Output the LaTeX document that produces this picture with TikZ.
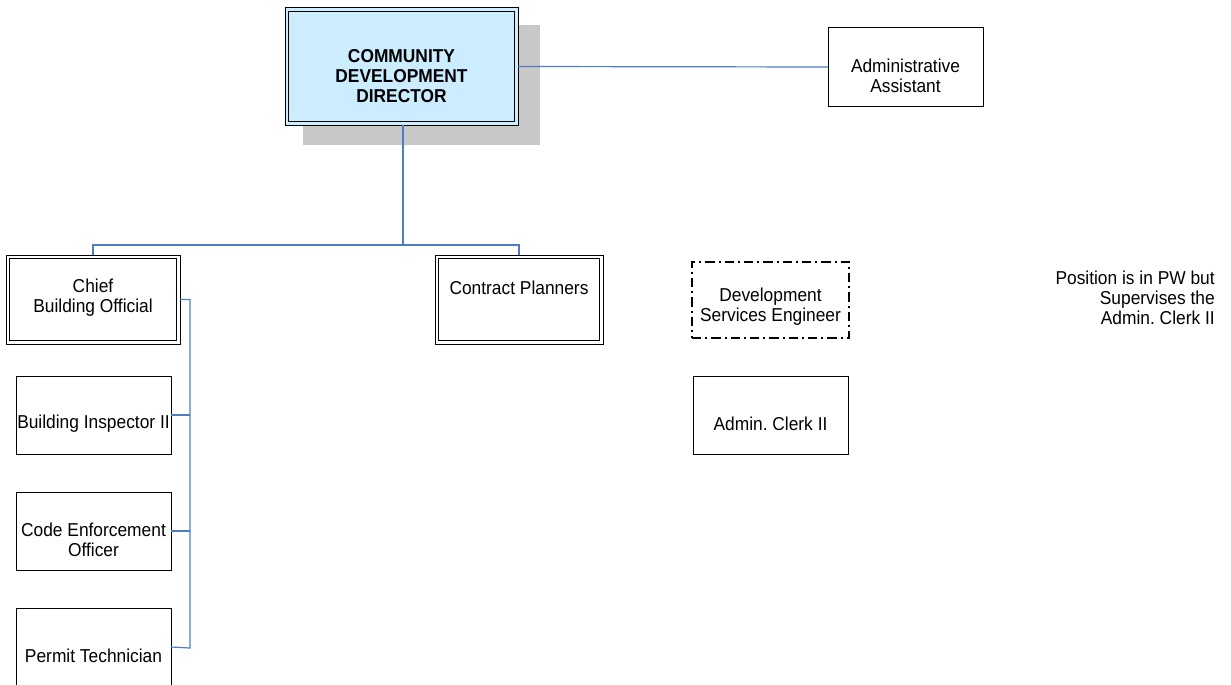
\documentclass[tikz,border=0pt]{standalone}
\usepackage{fontspec}
\setmainfont{Liberation Sans}[FakeStretch=0.93]
\definecolor{lblue}{RGB}{204,236,255}
\definecolor{shad}{RGB}{200,200,200}
\definecolor{conn}{RGB}{79,125,195}
\begin{document}
\begin{tikzpicture}[x=0.75pt,y=-0.75pt,
  box/.style={draw=black,line width=0.75pt,inner sep=0pt,outer sep=0pt,fill=white},
  innerline/.style={draw=black,line width=0.7pt},
  dashbox/.style={draw=black,line width=1.1pt,dash pattern=on 7pt off 3pt on 1.5pt off 3pt,inner sep=0pt,outer sep=0pt},
  txt/.style={align=center,inner sep=0pt,font=\fontsize{14}{15}\selectfont},
  link/.style={draw=conn,line width=0.9pt}]
\frenchspacing
\useasboundingbox (0,0) rectangle (1231,685);
% shadow
\fill[shad] (303,25) rectangle (540,145);
% boxes
\node[box,fill=lblue,minimum width=174.75pt,minimum height=87.75pt] (dir) at (401.5,66.5) {};
\draw[innerline] ([shift={(3.5,3.5)}]dir.north west) rectangle ([shift={(-3.5,-3.5)}]dir.south east);
\node[txt,font=\fontsize{14}{15}\selectfont\bfseries] (dirt) at (401.5,76) {COMMUNITY\\DEVELOPMENT\\DIRECTOR};
\node[box,minimum width=116.25pt,minimum height=58.5pt] (aa) at (905.5,67) {};
\node[txt] (aat) at (905.5,76) {Administrative\\Assistant};
\node[box,minimum width=130.5pt,minimum height=66.75pt] (chief) at (93,299.5) {};
\draw[innerline] ([shift={(3.5,3.5)}]chief.north west) rectangle ([shift={(-3.5,-3.5)}]chief.south east);
\node[txt] (chieft) at (93,298) {Chief\\Building Official};
\node[box,minimum width=126pt,minimum height=66.75pt] (contract) at (519,299.5) {};
\draw[innerline] ([shift={(3.5,3.5)}]contract.north west) rectangle ([shift={(-3.5,-3.5)}]contract.south east);
\node[txt] (contractt) at (519,288) {Contract Planners};
\node[dashbox,minimum width=117.75pt,minimum height=57pt] (dse) at (770.5,300) {};
\node[txt] (dset) at (770.5,307) {Development\\Services Engineer};
\node[box,minimum width=116.25pt,minimum height=58.5pt] (clerk) at (770.5,415) {};
\node[txt] (clerkt) at (770.5,424) {Admin. Clerk II};
\node[box,minimum width=116.25pt,minimum height=58.5pt] (bi) at (93.5,415) {};
\node[txt] (bit) at (93.5,424) {Building Inspector II};
\node[box,minimum width=116.25pt,minimum height=58.5pt] (ceo) at (93.5,531) {};
\node[txt] (ceot) at (93.5,540) {Code Enforcement\\Officer};
\node[box,minimum width=116.25pt,minimum height=58.5pt] (pt) at (93.5,647) {};
\node[txt] (ptt) at (93.5,656) {Permit Technician};
\node[txt,align=right,anchor=east] (note) at (1215,298) {Position is in PW but\\Supervises the\\Admin. Clerk II};
% connectors
\coordinate (hub) at (403,245);
\coordinate (bus) at (190,648);
\draw[link] (dir.east) -- (aa.west);
\draw[link] (dir.south -| hub) -- (hub) -| (chief.north);
\draw[link] (hub) -| (contract.north);
\draw[link] (chief.east) -| (bus) -- (pt.east);
\draw[link] (bi.east) -- (bi.east -| bus);
\draw[link] (ceo.east) -- (ceo.east -| bus);
\end{tikzpicture}
\end{document}
